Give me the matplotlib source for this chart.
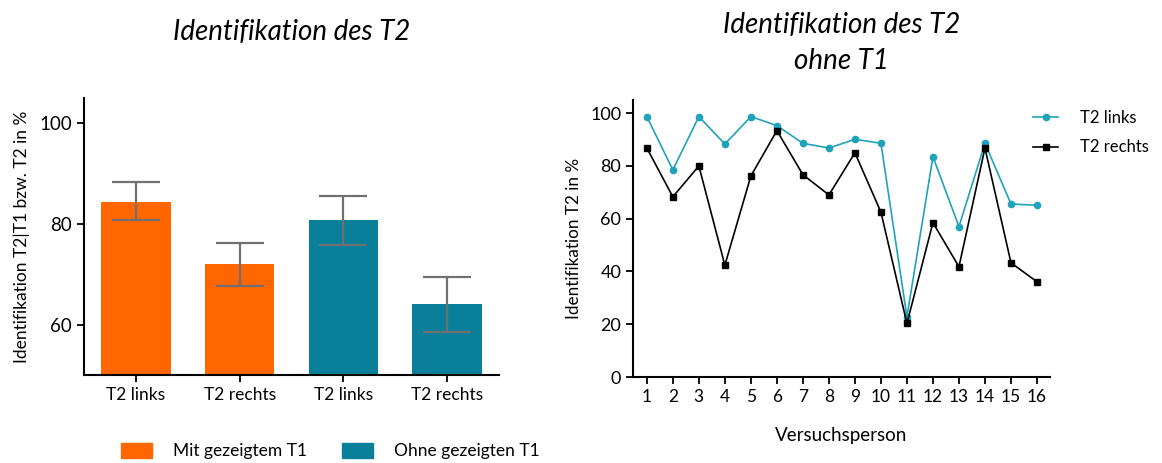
import numpy as np
import matplotlib.pyplot as plt
from matplotlib.patches import Patch

plt.rcParams['font.family'] = ['Lato', 'DejaVu Sans']

# Balken: Mittelwerte und Fehler (Identifikation T2|T1 bzw. T2)
bar_labels = ['T2 links', 'T2 rechts', 'T2 links', 'T2 rechts']
bar_means = [84.4, 72.1, 80.7, 64.1]
bar_err_low = [3.7, 4.4, 4.8, 5.6]
bar_err_high = [3.9, 4.2, 4.9, 5.4]
bar_groups = ['Mit gezeigtem T1', 'Mit gezeigtem T1', 'Ohne gezeigten T1', 'Ohne gezeigten T1']

# Einzelwerte pro Versuchsperson (ohne T1)
vp = list(range(1, 17))
t2_links = [98.7, 78.5, 98.7, 88.3, 98.7, 95.3, 88.6, 86.8,
            90.1, 88.6, 22.8, 83.5, 57.0, 88.6, 65.6, 65.1]
t2_rechts = [86.8, 68.3, 80.0, 42.4, 76.2, 93.4, 76.7, 69.0,
             85.0, 62.5, 20.3, 58.5, 41.8, 86.8, 43.3, 36.1]

orange = '#FF6600'
teal = '#0A7F99'
cyan = '#1FA3BA'
farben = {'Mit gezeigtem T1': orange, 'Ohne gezeigten T1': teal}

fig = plt.figure(figsize=(11.62, 4.63), dpi=100)

# linkes Diagramm
ax1 = fig.add_axes([0.0723, 0.190, 0.3571, 0.598])
x = np.arange(len(bar_means))
ax1.bar(x, bar_means, width=0.67, color=[farben[g] for g in bar_groups], zorder=1)
ax1.errorbar(x, bar_means, yerr=[bar_err_low, bar_err_high], fmt='none',
             ecolor='#707070', elinewidth=1.6, capsize=17, capthick=1.6, zorder=2)
ax1.set_ylim(50, 105)
ax1.set_xlim(-0.5, 3.5)
ax1.set_yticks([60, 80, 100])
ax1.set_xticks(x)
ax1.set_xticklabels(bar_labels)
ax1.set_ylabel('Identifikation T2|T1 bzw. T2 in %', fontsize=12.5, labelpad=7)
ax1.set_title('Identifikation des T2', fontsize=20, style='italic', pad=42)

# rechtes Diagramm
ax2 = fig.add_axes([0.5448, 0.1857, 0.3588, 0.5983])
ax2.plot(vp, t2_links, color=cyan, marker='o', markersize=4.5, linewidth=1.2,
         label='T2 links')
ax2.plot(vp, t2_rechts, color='black', marker='s', markersize=5, linewidth=1.2,
         label='T2 rechts')
ax2.set_ylim(0, 105)
ax2.set_xlim(0.47, 16.5)
ax2.set_yticks(range(0, 101, 20))
ax2.set_xticks(vp)
ax2.set_ylabel('Identifikation T2 in %', fontsize=12.3, labelpad=6)
ax2.set_xlabel('Versuchsperson', fontsize=13.5, labelpad=16)
ax2.set_title('Identifikation des T2\nohne T1', fontsize=20, style='italic',
              pad=22, linespacing=1.5)
ax2.legend(loc='upper left', bbox_to_anchor=(1033 / 1162, 1 - 110 / 463),
           bbox_transform=fig.transFigure, frameon=False, borderpad=0,
           borderaxespad=0, fontsize=12, handlelength=1.5, handletextpad=1.3,
           labelspacing=0.8)

for ax in (ax1, ax2):
    for s in ('top', 'right'):
        ax.spines[s].set_visible(False)
    for s in ('left', 'bottom'):
        ax.spines[s].set_linewidth(1.5)
    ax.tick_params(direction='out', width=1.3, length=5, labelsize=12.5)

ax1.tick_params(axis='y', labelsize=13.5)
ax2.tick_params(axis='y', labelsize=13)
ax2.tick_params(axis='x', labelsize=12.5)

# Legende für die Balken
handles = [Patch(color=orange, label='Mit gezeigtem T1'),
           Patch(color=teal, label='Ohne gezeigten T1')]
fig.legend(handles=handles, loc='center', bbox_to_anchor=(0.284, 0.026), ncol=2,
           frameon=False, fontsize=12.5, handlelength=1.8, handleheight=1.0,
           handletextpad=1.2, columnspacing=2.0)

fig.savefig('out.png', dpi=100)
